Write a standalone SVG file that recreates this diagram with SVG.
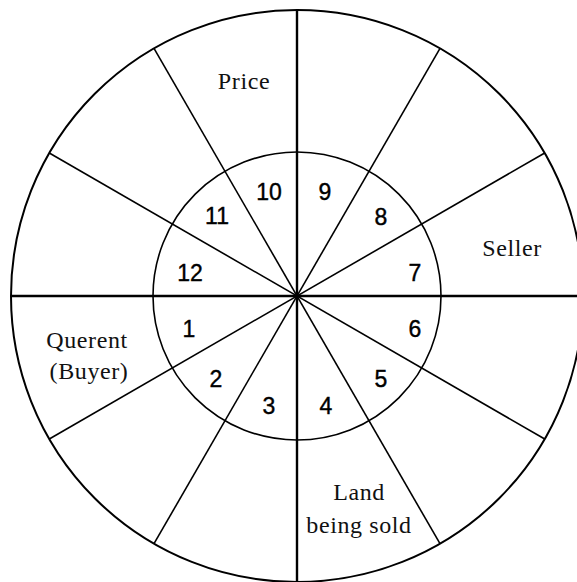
<svg xmlns="http://www.w3.org/2000/svg" width="577" height="582" viewBox="0 0 577 582">
<style>
.ring{fill:none;stroke:#000}
.axis{stroke:#000;stroke-width:2.4}
.spoke{stroke:#000;stroke-width:1.6}
.num{font-family:"Liberation Sans",Arial,sans-serif;font-size:23px;text-anchor:middle;fill:#000;stroke:#000;stroke-width:0.4}
.lbl{font-family:"Liberation Serif","Times New Roman",serif;font-size:24px;text-anchor:middle;fill:#111;letter-spacing:0.6px}
</style>
<rect width="577" height="582" fill="#fff"/>
<g id="outer-circle"><circle class="ring" cx="297" cy="296" r="286" stroke-width="2"/></g>
<g id="inner-circle"><circle class="ring" cx="297" cy="296" r="144" stroke-width="1.6"/></g>
<g id="connectors">
<line class="axis" x1="11" y1="296" x2="583" y2="296"/>
<line class="axis" x1="297" y1="10" x2="297" y2="582"/>
<line class="spoke" x1="544.7" y1="153" x2="49.3" y2="439"/>
<line class="spoke" x1="440" y1="48.3" x2="154" y2="543.7"/>
<line class="spoke" x1="154" y1="48.3" x2="440" y2="543.7"/>
<line class="spoke" x1="49.3" y1="153" x2="544.7" y2="439"/>
</g>
<g id="house-1"><text class="num" x="189" y="337">1</text></g>
<g id="house-2"><text class="num" x="216" y="387">2</text></g>
<g id="house-3"><text class="num" x="269" y="414">3</text></g>
<g id="house-4"><text class="num" x="326" y="414">4</text></g>
<g id="house-5"><text class="num" x="381" y="387">5</text></g>
<g id="house-6"><text class="num" x="415" y="337">6</text></g>
<g id="house-7"><text class="num" x="415" y="281">7</text></g>
<g id="house-8"><text class="num" x="381" y="225">8</text></g>
<g id="house-9"><text class="num" x="325" y="200">9</text></g>
<g id="house-10"><text class="num" x="269" y="200">10</text></g>
<g id="house-11"><text class="num" x="217" y="224">11</text></g>
<g id="house-12"><text class="num" x="190" y="281">12</text></g>
<g id="label-price"><text class="lbl" x="244" y="89">Price</text></g>
<g id="label-seller"><text class="lbl" x="512" y="256">Seller</text></g>
<g id="label-querent"><text class="lbl" x="87" y="348">Querent</text><text class="lbl" x="89" y="379">(Buyer)</text></g>
<g id="label-land"><text class="lbl" x="359" y="500">Land</text><text class="lbl" x="359" y="533">being sold</text></g>
</svg>
